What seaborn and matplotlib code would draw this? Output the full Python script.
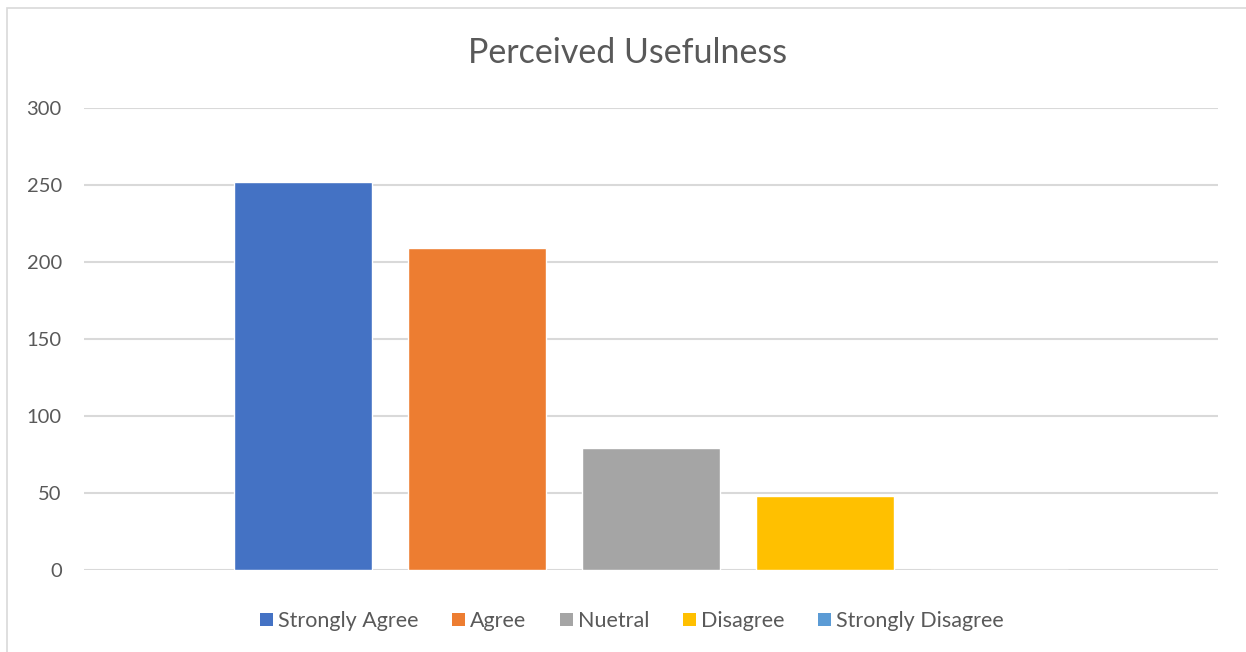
import matplotlib
matplotlib.use("Agg")
import matplotlib.pyplot as plt
from matplotlib.patches import Rectangle, Patch
import seaborn as sns
import pandas as pd

# Survey responses for perceived usefulness
responses = ["Strongly Agree", "Agree", "Nuetral", "Disagree", "Strongly Disagree"]
counts = [252, 209, 79, 48, 0]
colors = ["#4472C4", "#ED7D31", "#A5A5A5", "#FFC000", "#5B9BD5"]
y_ticks = [0, 50, 100, 150, 200, 250, 300]

df = pd.DataFrame({"response": responses, "count": counts})

sns.set_style("white")
plt.rcParams["font.family"] = ["Lato", "DejaVu Sans"]

W, H = 1246, 652
fig = plt.figure(figsize=(W / 100, H / 100), dpi=100)
fig.patch.set_facecolor("white")

# chart frame
fig.patches.append(Rectangle((7 / W, -0.05), 1.1, (H - 8) / H + 0.05,
                             transform=fig.transFigure, fill=False,
                             edgecolor="#d9d9d9", linewidth=1.2))

ax = fig.add_axes([84 / W, (H - 570) / H, (1218 - 84) / W, (570 - 108) / H])
sns.barplot(data=df, x="response", y="count", hue="response",
            palette=colors, width=0.793, saturation=1, legend=False, ax=ax)

ax.set_xlim(-1.259, 5.259)
ax.set_ylim(0, 300)
ax.set_yticks(y_ticks)
ax.yaxis.grid(True, color="#d9d9d9", linewidth=1.5)
ax.set_axisbelow(True)
for s in ax.spines.values():
    s.set_visible(False)
ax.set_xticks([])
ax.set_xlabel("")
ax.set_ylabel("")
ax.tick_params(axis="y", length=0, pad=16, labelsize=14.5, labelcolor="#595959")

fig.text(628 / W, 1 - 53 / H, "Perceived Usefulness", ha="center", va="center",
         fontsize=24.5, color="#595959")

handles = [Patch(facecolor=c, edgecolor="none") for c in colors]
fig.legend(handles, responses, loc="center", bbox_to_anchor=(632 / W, 1 - 621 / H),
           ncol=5, frameon=False, fontsize=15.5, labelcolor="#595959",
           handlelength=0.6, handleheight=0.6, handletextpad=0.25, columnspacing=1.55)

fig.savefig("out.png", dpi=100)
